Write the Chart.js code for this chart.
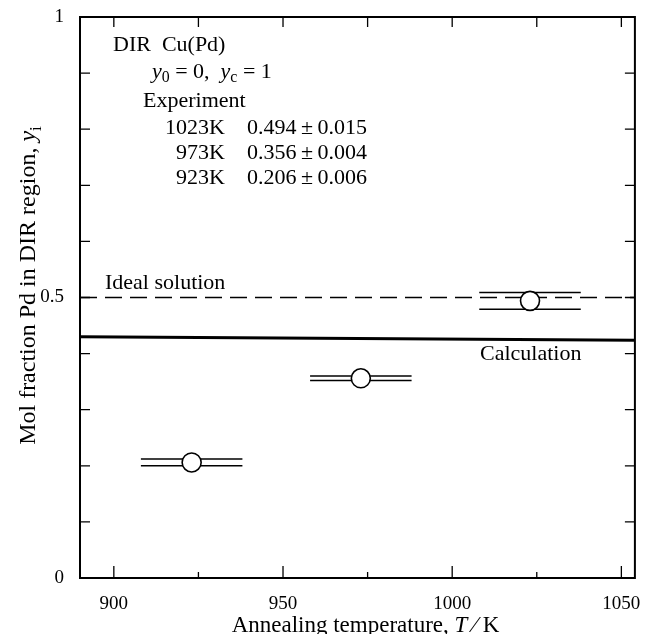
<!DOCTYPE html>
<html>
<head>
<meta charset="utf-8">
<script src="https://cdn.jsdelivr.net/npm/chart.js@4.4.1/dist/chart.umd.min.js"></script>
<style>
  body { margin: 0; background: #fff; }
  #wrap { position: relative; width: 646px; height: 634px; }
</style>
</head>
<body>
<div id="wrap"><canvas id="chart"></canvas></div>
<script>
// ==== Data ====
const temps = [923, 973, 1023];           // annealing temperature, K
const yMean = [0.206, 0.356, 0.494];       // measured mol fraction Pd
const yErr = [0.006, 0.004, 0.015];        // +/- on the fraction
const tempSpread = [15, 15, 15];           // half width of the bars, K

const idealT = [890, 1054];
const idealY = [0.5, 0.5];
const calcT = [890, 1054];
const calcY = [0.430, 0.424];

const xTicks = [900, 950, 1000, 1050];
const xMinorTicks = [925, 975, 1025];
const yTicks = [0, 0.5, 1];
const yMinorTicks = [0.1, 0.2, 0.3, 0.4, 0.5, 0.6, 0.7, 0.8, 0.9];

const expRows = [
  ["1023K", "0.494", "0.015"],
  ["973K", "0.356", "0.004"],
  ["923K", "0.206", "0.006"]
];

const SERIF = "'Liberation Serif', 'DejaVu Serif', serif";

// ==== Helpers ====
// draw a run of text pieces, some italic, some subscript
function drawRich(ctx, parts, x, y, size) {
  let cx = x;
  parts.forEach(p => {
    const s = p.sub ? size * 0.72 : size;
    ctx.font = `${p.italic ? "italic " : ""}${s}px ${SERIF}`;
    ctx.fillText(p.t, cx, y + (p.sub ? size * 0.25 : 0));
    cx += ctx.measureText(p.t).width;
  });
  return cx - x;
}
function richWidth(ctx, parts, size) {
  let w = 0;
  parts.forEach(p => {
    const s = p.sub ? size * 0.72 : size;
    ctx.font = `${p.italic ? "italic " : ""}${s}px ${SERIF}`;
    w += ctx.measureText(p.t).width;
  });
  return w;
}

// ==== Frame, ticks, error bars, notes ====
const decorations = {
  id: "decorations",
  beforeDatasetsDraw(chart) {
    const { ctx, scales: { x, y } } = chart;
    ctx.save();
    ctx.strokeStyle = "#000";

    // horizontal double bars: value +/- error, over T +/- spread
    ctx.lineWidth = 1.6;
    temps.forEach((t, i) => {
      const x1 = x.getPixelForValue(t - tempSpread[i]);
      const x2 = x.getPixelForValue(t + tempSpread[i]);
      [yMean[i] - yErr[i], yMean[i] + yErr[i]].forEach(v => {
        const py = y.getPixelForValue(v);
        ctx.beginPath();
        ctx.moveTo(x1, py);
        ctx.lineTo(x2, py);
        ctx.stroke();
      });
    });
    ctx.restore();
  },
  afterDraw(chart) {
    const { ctx, chartArea: a, scales: { x, y } } = chart;
    ctx.save();
    ctx.strokeStyle = "#000";
    ctx.fillStyle = "#000";

    // frame
    ctx.lineWidth = 2;
    ctx.strokeRect(a.left, a.top, a.right - a.left, a.bottom - a.top);

    // inward ticks
    ctx.lineWidth = 1.3;
    ctx.beginPath();
    yMinorTicks.forEach(v => {
      const py = y.getPixelForValue(v);
      ctx.moveTo(a.left, py); ctx.lineTo(a.left + 10, py);
      ctx.moveTo(a.right, py); ctx.lineTo(a.right - 10, py);
    });
    xTicks.forEach(v => {
      const px = x.getPixelForValue(v);
      ctx.moveTo(px, a.bottom); ctx.lineTo(px, a.bottom - 12);
      ctx.moveTo(px, a.top); ctx.lineTo(px, a.top + 10);
    });
    xMinorTicks.forEach(v => {
      const px = x.getPixelForValue(v);
      ctx.moveTo(px, a.bottom); ctx.lineTo(px, a.bottom - 6);
      ctx.moveTo(px, a.top); ctx.lineTo(px, a.top + 10);
    });
    ctx.stroke();

    // notes in the plot
    const fs = 22;
    ctx.textBaseline = "middle";
    ctx.textAlign = "left";
    ctx.font = `${fs}px ${SERIF}`;
    ctx.fillText("DIR  Cu(Pd)", 113, 45);
    drawRich(ctx, [
      { t: "y", italic: true }, { t: "0", sub: true }, { t: " = 0,  " },
      { t: "y", italic: true }, { t: "c", sub: true }, { t: " = 1" }
    ], 152, 72, fs);
    ctx.font = `${fs}px ${SERIF}`;
    ctx.fillText("Experiment", 143, 101);
    expRows.forEach((r, i) => {
      const py = 128 + i * 25;
      ctx.font = `${fs}px ${SERIF}`;
      ctx.textAlign = "right";
      ctx.fillText(r[0], 225, py);
      ctx.textAlign = "left";
      ctx.fillText(r[1] + "\u2009\u00b1\u2009" + r[2], 247, py);
    });
    ctx.fillText("Ideal solution", 105, 283);
    ctx.fillText("Calculation", 480, 354);

    // axis titles
    ctx.textBaseline = "alphabetic";
    const xs = 23;
    const xt = [
      { t: "Annealing temperature, " }, { t: "T", italic: true },
      { t: " \u2044 " }, { t: "K" }
    ];
    drawRich(ctx, xt, (a.left + a.right) / 2 + 8 - richWidth(ctx, xt, xs) / 2, 632, xs);

    const ys = 24;
    const yt = [
      { t: "Mol fraction Pd in DIR region, " }, { t: "y", italic: true }, { t: "i", sub: true }
    ];
    ctx.translate(35, (a.top + a.bottom) / 2 - 12);
    ctx.rotate(-Math.PI / 2);
    drawRich(ctx, yt, -richWidth(ctx, yt, ys) / 2, 0, ys);
    ctx.restore();
  }
};

// ==== Chart ====
new Chart(document.getElementById("chart"), {
  type: "scatter",
  data: {
    datasets: [
      {
        label: "Experiment",
        data: temps.map((t, i) => ({ x: t, y: yMean[i] })),
        pointRadius: 9.5,
        pointBackgroundColor: "#fff",
        pointBorderColor: "#000",
        pointBorderWidth: 1.6,
        order: 0
      },
      {
        label: "Ideal solution",
        type: "line",
        data: idealT.map((t, i) => ({ x: t, y: idealY[i] })),
        borderColor: "#000",
        borderWidth: 1.3,
        borderDash: [17, 8],
        pointRadius: 0,
        order: 1
      },
      {
        label: "Calculation",
        type: "line",
        data: calcT.map((t, i) => ({ x: t, y: calcY[i] })),
        borderColor: "#000",
        borderWidth: 3,
        pointRadius: 0,
        order: 2
      }
    ]
  },
  options: {
    responsive: true,
    maintainAspectRatio: false,
    animation: false,
    layout: { padding: { top: 17, right: 10, left: 0, bottom: 0 } },
    plugins: { legend: { display: false }, tooltip: { enabled: false } },
    scales: {
      x: {
        type: "linear",
        min: 890,
        max: 1054,
        afterBuildTicks: s => { s.ticks = xTicks.map(v => ({ value: v })); },
        afterFit: s => { s.height = 56; s.paddingLeft = 0; s.paddingRight = 0; },
        grid: { display: false, drawTicks: false },
        border: { display: false },
        ticks: {
          padding: 15,
          color: "#000",
          font: { family: SERIF, size: 19 },
          callback: v => String(v)
        }
      },
      y: {
        min: 0,
        max: 1,
        afterBuildTicks: s => { s.ticks = yTicks.map(v => ({ value: v })); },
        afterFit: s => { s.width = 80; s.paddingTop = 0; s.paddingBottom = 0; },
        grid: { display: false, drawTicks: false },
        border: { display: false },
        ticks: {
          padding: 16,
          color: "#000",
          font: { family: SERIF, size: 19 },
          callback: v => String(v)
        }
      }
    }
  },
  plugins: [decorations]
});
</script>
</body>
</html>
